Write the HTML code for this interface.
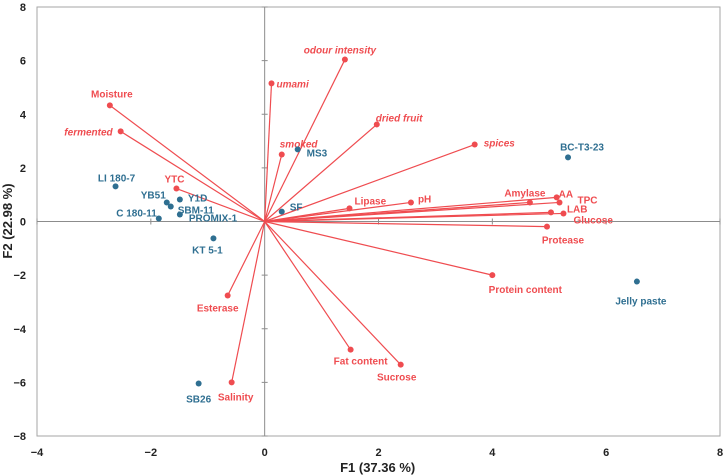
<!DOCTYPE html>
<html><head><meta charset="utf-8"><style>
html,body{margin:0;padding:0;background:#fff;}
svg{display:block;font-family:"Liberation Sans",Arial,sans-serif;}
</style></head><body>
<svg id="chart" width="727" height="476" viewBox="0 0 727 476" xmlns="http://www.w3.org/2000/svg"></svg>
<script>
const xTicks=[-4,-2,0,2,4,6,8];
const yTicks=[-8,-6,-4,-2,0,2,4,6,8];
const varNames=["Moisture","fermented","YTC","umami","odour intensity","smoked","dried fruit","spices","Lipase","pH","Amylase","AA","TPC","LAB","Glucose","Protease","Protein content","Esterase","Fat content","Sucrose","Salinity"];
const varX=[-2.72,-2.53,-1.55,0.12,1.41,0.30,1.97,3.69,1.49,2.57,4.66,5.13,5.18,5.03,5.25,4.96,4.00,-0.65,1.51,2.39,-0.58];
const varY=[4.33,3.36,1.23,5.15,6.04,2.50,3.62,2.87,0.49,0.71,0.71,0.90,0.71,0.34,0.30,-0.19,-2.00,-2.76,-4.78,-5.34,-6.00];
const sampleNames=["LI 180-7","YB51","SBM-11","Y1D","PROMIX-1","C 180-11","KT 5-1","SF","MS3","BC-T3-23","Jelly paste","SB26"];
const sampleX=[-2.62,-1.72,-1.65,-1.49,-1.49,-1.86,-0.90,0.30,0.58,5.33,6.54,-1.16];
const sampleY=[1.31,0.71,0.56,0.82,0.26,0.11,-0.63,0.37,2.69,2.39,-2.24,-6.04];

const italicVars=["fermented","umami","odour intensity","smoked","dried fruit","spices"];
const varLab={"Moisture":[2,-8,"middle"],"fermented":[-8,4,"end"],"YTC":[-2,-6,"middle"],"umami":[5,4,"start"],"odour intensity":[-5,-6,"middle"],"smoked":[-2,-7,"start"],"dried fruit":[-1,-3,"start"],"spices":[9,2,"start"],"Lipase":[5,-4,"start"],"pH":[7,0,"start"],"Amylase":[-5,-6,"middle"],"AA":[2,0,"start"],"TPC":[18,1,"start"],"LAB":[16,0,"start"],"Glucose":[10,10,"start"],"Protease":[16,17,"middle"],"Protein content":[33,18,"middle"],"Esterase":[-10,16,"middle"],"Fat content":[10,15,"middle"],"Sucrose":[-4,16,"middle"],"Salinity":[4,18,"middle"]};
const smpLab={"LI 180-7":[1,-5,"middle"],"YB51":[-1,-4,"end"],"SBM-11":[7,7,"start"],"Y1D":[8,2,"start"],"PROMIX-1":[9,7,"start"],"C 180-11":[-2,-2,"end"],"KT 5-1":[-6,15,"middle"],"SF":[8,-1,"start"],"MS3":[9,7,"start"],"BC-T3-23":[14,-7,"middle"],"Jelly paste":[4,23,"middle"],"SB26":[0,19,"middle"]};

const L=37,R=720,T=7,B=436;
const sx=v=>L+(v+4)/12*(R-L);
const sy=v=>B-(v+8)/16*(B-T);
const NS="http://www.w3.org/2000/svg";
const svg=document.getElementById('chart');
function mk(tag,attrs,parent){const e=document.createElementNS(NS,tag);for(const k in attrs)e.setAttribute(k,attrs[k]);(parent||svg).appendChild(e);return e;}
const RED="#EF4C50",BLUE="#2F6F91";

const frame=mk('rect',{x:L,y:T,width:R-L,height:B-T,fill:'none',stroke:'#a6a6a6','stroke-width':1});


const ax0=mk('line',{x1:sx(0),y1:T,x2:sx(0),y2:B,stroke:'#8c8c8c','stroke-width':1});


const ay0=mk('line',{x1:L,y1:sy(0),x2:R,y2:sy(0),stroke:'#8c8c8c','stroke-width':1});


xTicks.forEach(t=>{
  const tk=mk('line',{x1:sx(t),y1:sy(0)-3,x2:sx(t),y2:sy(0)+3,stroke:'#8c8c8c'});
  
  
  const tx=mk('text',{x:sx(t),y:456,'text-anchor':'middle','font-size':11,'font-weight':'bold',fill:'#222'});
  tx.textContent=t<0?'\u2212'+(-t):String(t);
  
  
});
yTicks.forEach(t=>{
  const tk=mk('line',{x1:sx(0)-3,y1:sy(t),x2:sx(0)+3,y2:sy(t),stroke:'#8c8c8c'});
  
  
  const tx=mk('text',{x:26,y:sy(t)+4,'text-anchor':'end','font-size':11,'font-weight':'bold',fill:'#222'});
  tx.textContent=t<0?'\u2212'+(-t):String(t);
  
  
});
const xt=mk('text',{x:sx(0)+113,y:472,'text-anchor':'middle','font-size':13,'font-weight':'bold',fill:'#222'});
xt.textContent='F1 (37.36 %)';


const yt=mk('text',{x:12,y:221,'text-anchor':'middle','font-size':13,'font-weight':'bold',fill:'#222',transform:'rotate(-90 12 221)'});
yt.textContent='F2 (22.98 %)';



varNames.forEach((n,i)=>{
  const x=sx(varX[i]),y=sy(varY[i]);
  const ln=mk('line',{x1:sx(0),y1:sy(0),x2:x,y2:y,stroke:RED,'stroke-width':1.2});
  
  
  const c=mk('circle',{cx:x,cy:y,r:3,fill:RED});
  
  
  const o=varLab[n]||[0,-6,'middle'];
  const t=mk('text',{x:x+o[0],y:y+o[1],'text-anchor':o[2],'font-size':10,'font-weight':'bold',fill:RED});
  if(italicVars.includes(n))t.setAttribute('font-style','italic');
  t.textContent=n;
  
  
});
sampleNames.forEach((n,i)=>{
  const x=sx(sampleX[i]),y=sy(sampleY[i]);
  const c=mk('circle',{cx:x,cy:y,r:3,fill:BLUE});
  
  
  const o=smpLab[n]||[0,-6,'middle'];
  const t=mk('text',{x:x+o[0],y:y+o[1],'text-anchor':o[2],'font-size':10,'font-weight':'bold',fill:BLUE});
  t.textContent=n;
  
  
});
</script>
</body></html>
